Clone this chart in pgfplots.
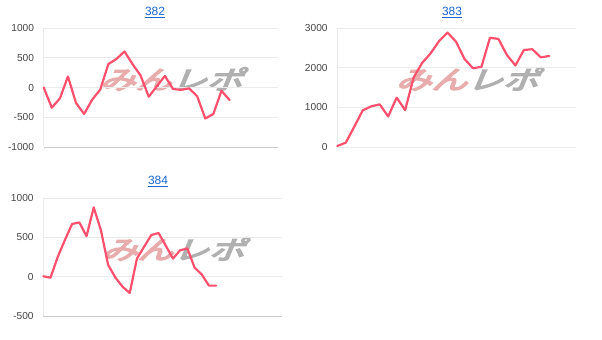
\documentclass[border=0pt]{standalone}
\usepackage{pgfplots}
\pgfplotsset{compat=1.18}
\usepackage{fontspec}
\setmainfont{Liberation Sans}
\newfontfamily\wmfont[FakeSlant=0.3,FakeBold=5]{Noto Sans CJK JP}
\definecolor{linec}{HTML}{FF506E}
\definecolor{gridc}{HTML}{EBEBEB}
\definecolor{basec}{HTML}{CCCCCC}
\definecolor{zeroc}{HTML}{D4D4D4}
\definecolor{tickc}{HTML}{444444}
\definecolor{titlec}{HTML}{1A66CC}
\definecolor{wmpink}{HTML}{E8ACAC}
\definecolor{wmgray}{HTML}{B0B0B0}
\pgfplotsset{
  mini/.style={
    scale only axis,
    axis lines*=left,
    x axis line style={draw=basec, line width=1bp},
    y axis line style={draw=gridc, line width=1bp},
    ymajorgrids,
    major grid style={draw=gridc, line width=1bp},
    major tick length=0pt,
    xtick=\empty,
    xmin=0,
    ticklabel style={font=\fontsize{10.2}{12}\selectfont, text=tickc},
    /pgf/number format/assume math mode=true,
    /pgf/number format/1000 sep={},
    yticklabel style={anchor=east, inner sep=0pt, xshift=-9.5bp},
    extra y ticks={0},
    extra y tick labels={},
    extra y tick style={grid style={draw=zeroc, line width=1bp}},
    clip=false,
  },
  dataline/.style={draw=linec, line width=2.2bp, line join=round, line cap=round},
}
\newcommand{\wm}[1]{\node at (#1) {\scalebox{1.28}[0.92]{\wmfont\fontsize{28}{30}\selectfont\color{wmpink}みん\color{wmgray}レポ}};}
\begin{document}
\begin{tikzpicture}[x=1bp,y=1bp]
\path[use as bounding box] (0,0) rectangle (602,-339);
\coordinate (A1) at (43.7,-147);
\coordinate (A2) at (337.3,-147);
\coordinate (A3) at (43.3,-316);
% watermarks
\wm{171,-79}
\wm{467,-79}
\wm{173,-249}
% titles
\node[anchor=center] at (155,-12.5) {\fontsize{12}{14}\selectfont\color{titlec}\underline{382}};
\node[anchor=center] at (452,-12.5) {\fontsize{12}{14}\selectfont\color{titlec}\underline{383}};
\node[anchor=center] at (158,-181.5) {\fontsize{12}{14}\selectfont\color{titlec}\underline{384}};
% chart 382
\begin{axis}[mini, at={(A1)}, anchor=south west, width=234.3bp, height=119bp,
  xmax=29, ymin=-1000, ymax=1000, ytick={-1000,-500,0,500,1000}]
\addplot[dataline] coordinates {
(0,0) (1,-340) (2,-185) (3,185) (4,-260) (5,-445) (6,-205) (7,-35) (8,393) (9,480)
(10,605) (11,392) (12,200) (13,-155) (14,20) (15,195) (16,-25) (17,-40) (18,-15) (19,-148)
(20,-521) (21,-445) (22,-55) (23,-210)};
\end{axis}
% chart 383
\begin{axis}[mini, at={(A2)}, anchor=south west, width=238.7bp, height=119bp,
  xmax=28.15, ymin=0, ymax=3000, ytick={0,1000,2000,3000}]
\addplot[dataline] coordinates {
(0,25) (1,110) (2,510) (3,925) (4,1025) (5,1075) (6,770) (7,1245) (8,930) (9,1750)
(10,2120) (11,2360) (12,2670) (13,2885) (14,2655) (15,2220) (16,1985) (17,2022) (18,2753) (19,2725)
(20,2320) (21,2055) (22,2445) (23,2465) (24,2260) (25,2295)};
\end{axis}
% chart 384
\begin{axis}[mini, at={(A3)}, anchor=south west, width=238.4bp, height=118bp,
  xmax=33.1, ymin=-500, ymax=1000, ytick={-500,0,500,1000}]
\addplot[dataline] coordinates {
(0,5) (1,-13) (2,250) (3,466) (4,670) (5,690) (6,515) (7,880) (8,590) (9,150)
(10,-10) (11,-127) (12,-207) (13,230) (14,381) (15,530) (16,555) (17,395) (18,230) (19,335)
(20,360) (21,116) (22,28) (23,-114) (24,-114)};
\end{axis}
\end{tikzpicture}
\end{document}
